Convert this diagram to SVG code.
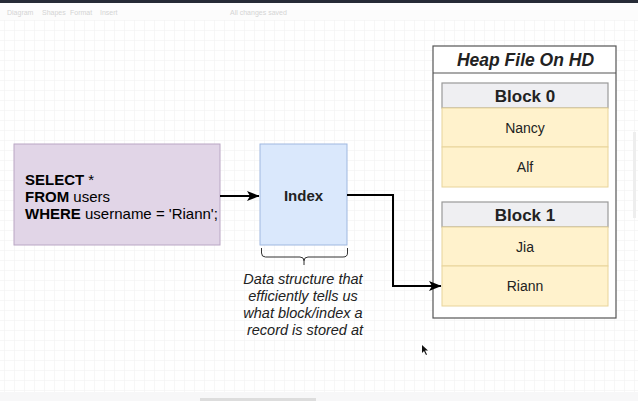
<svg xmlns="http://www.w3.org/2000/svg" width="638" height="401" viewBox="0 0 638 401">
<style>
.ui{font-family:"Liberation Sans",Arial,sans-serif;font-size:7px;fill:#d4d4d4}
.sql{font-family:"Liberation Sans",Arial,sans-serif;font-size:15px;fill:#000}
.b{font-weight:bold}
.lbl{font-family:"Liberation Sans",Arial,sans-serif;fill:#222;text-anchor:middle}
.row{fill:#fff2cc;stroke:#e8d49a;stroke-width:1}
.hdr{fill:#efeff2;stroke:#999;stroke-width:1.2}
.conn{fill:none;stroke:#000;stroke-width:2}
</style>
<defs>
<pattern id="grid" width="10" height="10" patternUnits="userSpaceOnUse" x="4" y="0">
<path d="M10 0H0V10" fill="none" stroke="#f0f0f0" stroke-width="1"/>
</pattern>
<marker id="arr" markerWidth="13" markerHeight="12" viewBox="0 0 13 12" refX="12" refY="6" orient="auto" markerUnits="userSpaceOnUse">
<path d="M0 1L12.5 6L0 11L3 6Z" fill="#000"/>
</marker>
</defs>
<rect width="638" height="401" fill="#fff"/>
<rect y="20" width="638" height="372" fill="url(#grid)"/>
<rect width="638" height="3" fill="#262a36"/>
<rect y="3" width="638" height="17" fill="#fcfcfc"/>
<g id="toolbar">
<text class="ui" x="7" y="15">Diagram</text>
<text class="ui" x="42" y="15">Shapes</text>
<text class="ui" x="70" y="15">Format</text>
<text class="ui" x="100" y="15">Insert</text>
<text class="ui" x="230" y="15">All changes saved</text>
</g>
<rect y="392" width="638" height="9" fill="#f7f7f8"/>
<rect x="200" y="398" width="116" height="3" fill="#ddd"/>
<rect x="633" y="132" width="3" height="86" fill="#eee"/>

<g id="query">
<rect x="14" y="144" width="206" height="101" fill="#e1d5e7" stroke="#b9a6c4" stroke-width="1"/>
<text class="sql" x="25" y="185"><tspan class="b">SELECT</tspan> *</text>
<text class="sql" x="25" y="202"><tspan class="b">FROM</tspan> users</text>
<text class="sql" x="25" y="219"><tspan class="b">WHERE</tspan> username = 'Riann';</text>
</g>

<g id="index">
<rect x="260" y="144" width="87" height="101" fill="#dae8fc" stroke="#9fb8e0" stroke-width="1"/>
<text class="lbl b" x="303.5" y="201" font-size="15">Index</text>
</g>

<g id="bracket">
<path d="M261.5 248V253Q261.5 257 265.5 257H300Q304 257 304 261V265M304 261Q304 257 308 257H343Q347.5 257 347.5 253V248" fill="none" stroke="#333" stroke-width="1"/>
</g>

<g id="note">
<text class="lbl" font-size="14.5" font-style="italic" fill="#111">
<tspan x="305" y="284">Data structure that</tspan>
<tspan x="305" y="301">efficiently tells us</tspan>
<tspan x="305" y="318">what block/index a</tspan>
<tspan x="305" y="335">record is stored at</tspan>
</text>
</g>

<g id="heap">
<rect x="433" y="46" width="183" height="272" fill="#fff" stroke="#555" stroke-width="1.2"/>
<line x1="433" y1="73" x2="616" y2="73" stroke="#555" stroke-width="1.2"/>
<text class="lbl b" x="525.5" y="66" font-size="17.5" font-style="italic" fill="#000">Heap File On HD</text>
</g>

<g id="block0">
<rect class="hdr" x="442" y="83" width="166" height="25"/>
<text class="lbl b" x="525" y="102" font-size="17" fill="#333">Block 0</text>
<rect class="row" x="442" y="108" width="166" height="39"/>
<text class="lbl" x="525" y="133" font-size="14">Nancy</text>
<rect class="row" x="442" y="147" width="166" height="40"/>
<text class="lbl" x="525" y="172" font-size="14">Alf</text>
</g>

<g id="block1">
<rect class="hdr" x="442" y="202" width="166" height="25"/>
<text class="lbl b" x="525" y="221" font-size="17" fill="#333">Block 1</text>
<rect class="row" x="442" y="227" width="166" height="39"/>
<text class="lbl" x="525" y="252" font-size="14">Jia</text>
<rect class="row" x="442" y="266" width="166" height="40"/>
<text class="lbl" x="525" y="291" font-size="14">Riann</text>
</g>

<g id="connectors">
<path class="conn" d="M220 196H259" marker-end="url(#arr)"/>
<path class="conn" d="M347 195H393V286H441" marker-end="url(#arr)"/>
</g>

<path d="M422 345V353L424 351L426 355L427 354.5L425 350.5H428Z" fill="#111"/>
</svg>
